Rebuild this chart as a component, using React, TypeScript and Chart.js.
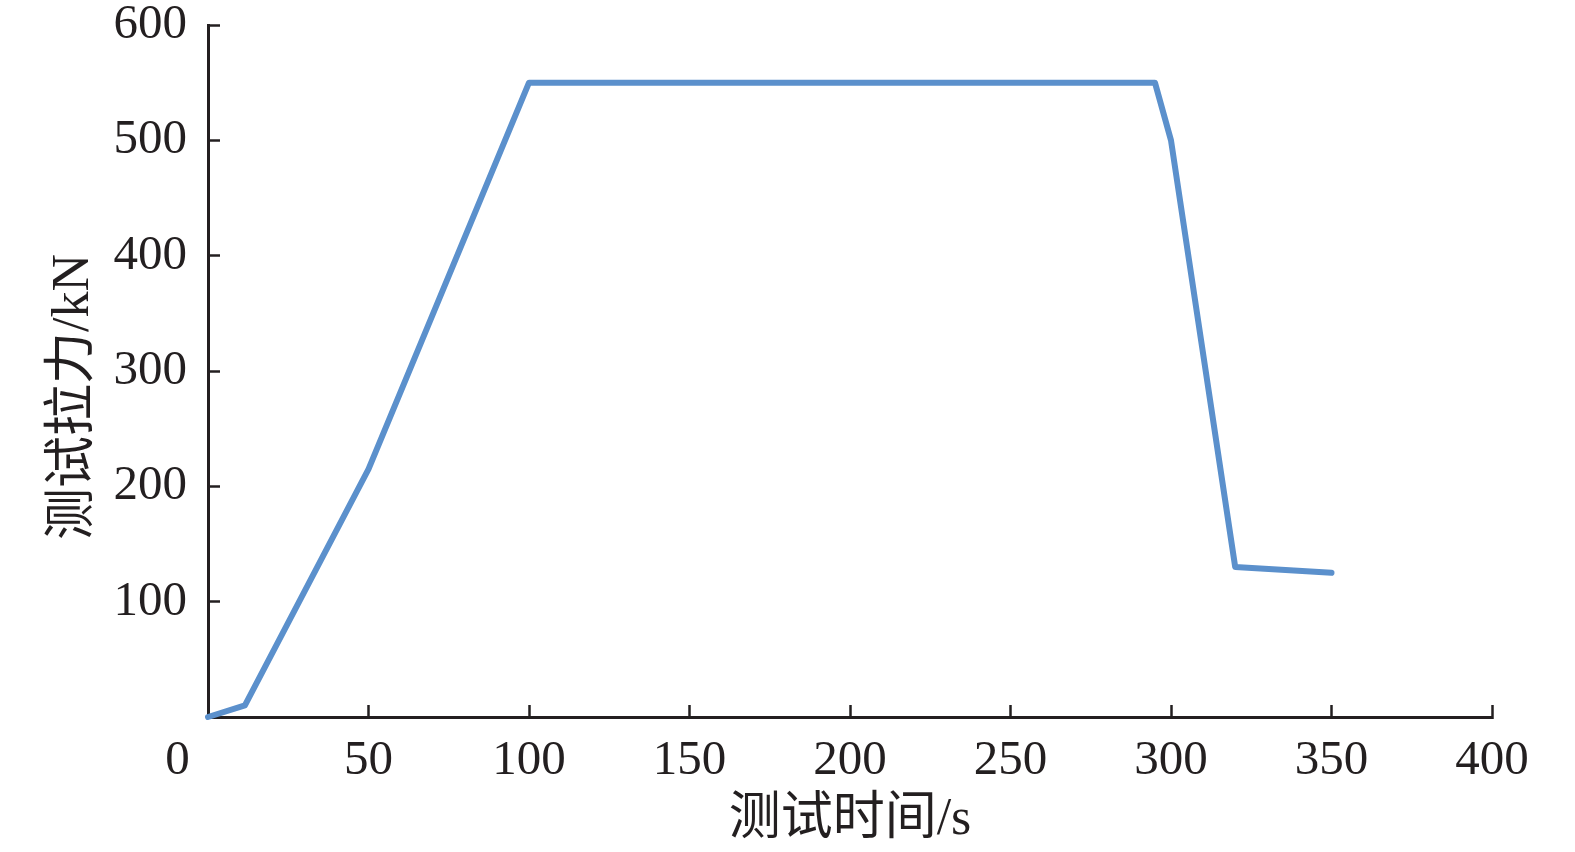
import React, { useEffect, useRef } from "react";
import { Chart, registerables } from "chart.js";

Chart.register(...registerables);

const timeValues = [0, 11.5, 50, 100, 295, 300, 320, 350];
const forceValues = [0, 10, 215, 550, 550, 500, 130, 125];
const xTickLabels = ["0", "50", "100", "150", "200", "250", "300", "350", "400"];
const yTickLabels = ["", "100", "200", "300", "400", "500", "600"];

const xTitle = "测试时间/s";
const yTitle = "测试拉力/kN";

const FONT = "'Liberation Serif', 'Noto Sans CJK SC', serif";
const INK = "#231f20";

export default function App() {
  const ref = useRef<HTMLCanvasElement | null>(null);

  useEffect(() => {
    if (!ref.current) return;
    const chart = new Chart(ref.current, {
      type: "line",
      data: {
        datasets: [
          {
            data: timeValues.map((t, i) => ({ x: t, y: forceValues[i] })),
            borderColor: "#5b90cc",
            borderWidth: 6,
            borderCapStyle: "round",
            borderJoinStyle: "round",
            pointRadius: 0,
            tension: 0,
            fill: false,
            clip: false as any,
          },
        ],
      },
      options: {
        responsive: false,
        animation: false,
        layout: { padding: { top: 25, right: 83, left: 0, bottom: 0 } },
        plugins: { legend: { display: false }, tooltip: { enabled: false } },
        scales: {
          x: {
            type: "linear",
            min: 0,
            max: 400,
            afterFit: (s: any) => {
              s.height = 135;
              s.paddingLeft = 0;
              s.paddingRight = 0;
            },
            border: { color: INK, width: 3 },
            grid: {
              drawOnChartArea: false,
              drawTicks: true,
              tickLength: -12,
              tickColor: INK,
              tickWidth: 2.5,
            },
            ticks: {
              stepSize: 50,
              maxRotation: 0,
              autoSkip: false,
              padding: 27,
              color: INK,
              font: { family: FONT, size: 49 },
              callback: (v: any, i: number) => {
                const lbl = xTickLabels[i] ?? String(v);
                return i === 0 ? lbl + "     " : lbl;
              },
            },
            title: {
              display: true,
              text: xTitle,
              color: INK,
              font: { family: FONT, size: 52 },
              padding: { top: 0, bottom: 0 },
            },
          },
          y: {
            type: "linear",
            min: 0,
            max: 600,
            afterFit: (s: any) => {
              s.width = 208;
              s.paddingTop = 0;
              s.paddingBottom = 0;
            },
            border: { color: INK, width: 3 },
            grid: {
              drawOnChartArea: false,
              drawTicks: true,
              tickLength: -12,
              tickColor: INK,
              tickWidth: 2.5,
            },
            ticks: {
              stepSize: 100,
              autoSkip: false,
              padding: 33,
              color: INK,
              font: { family: FONT, size: 49 },
              callback: (v: any, i: number) => yTickLabels[i] ?? String(v),
            },
            title: {
              display: true,
              text: yTitle + "    ",
              color: INK,
              font: { family: FONT, size: 52 },
              padding: { top: 43, bottom: 0 },
            },
          },
        },
      } as any,
    });
    return () => chart.destroy();
  }, []);

  return (
    <canvas
      ref={ref}
      width={1575}
      height={852}
      style={{ position: "absolute", left: 0, top: 0, width: 1575, height: 852 }}
    />
  );
}
